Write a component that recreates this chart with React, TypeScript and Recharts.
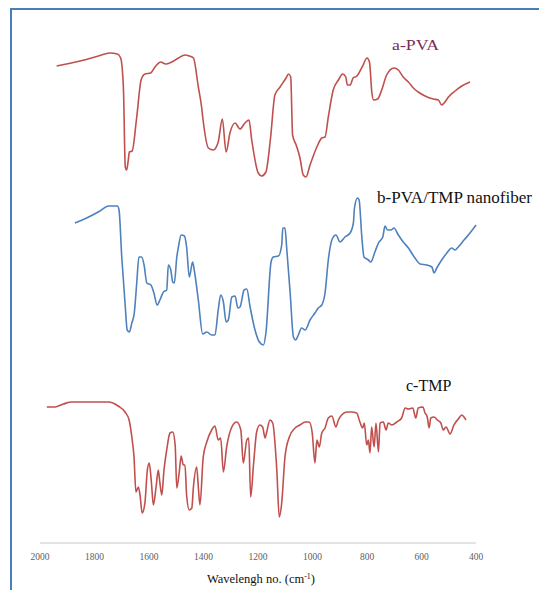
import { Line, LineChart, XAxis, YAxis } from "recharts";

// FTIR spectra, offset vertically (arbitrary transmittance units)
const pvaWavenumber = [
  1939, 1853, 1786, 1743, 1716, 1704, 1694, 1687, 1682, 1676, 1672, 1662, 1645, 1629, 1615, 1594,
  1578, 1557, 1539, 1517, 1492, 1468, 1452, 1437, 1419, 1407, 1402, 1382, 1364, 1346, 1331, 1317,
  1303, 1284, 1266, 1248, 1233, 1223, 1199, 1187, 1171, 1154, 1138, 1119, 1097, 1088, 1080, 1073,
  1060, 1046, 1034, 1024, 1009, 984, 966, 954, 942, 924, 905, 889, 878, 872, 862, 851, 837, 816,
  800, 791, 782, 776, 761, 746, 728, 701, 685, 667, 648, 630, 612, 587, 557, 538, 526, 517, 501,
  477, 452, 422,
];
const pvaSignal = [
  477, 482, 487, 490, 489, 485, 456, 376, 373, 383, 391, 392, 426, 463, 469, 470, 476, 481, 479,
  481, 485, 488, 487, 485, 456, 436, 424, 395, 393, 401, 424, 391, 410, 420, 414, 420, 423, 403,
  370, 367, 371, 405, 448, 456, 465, 469, 466, 408, 398, 385, 368, 366, 378, 396, 405, 406, 426,
  453, 463, 469, 466, 458, 458, 465, 467, 477, 485, 481, 450, 443, 444, 453, 468, 475, 473, 466,
  461, 455, 451, 447, 444, 443, 438, 440, 446, 452, 457, 461,
];

const fiberWavenumber = [
  1872, 1829, 1780, 1749, 1716, 1710, 1700, 1688, 1680, 1672, 1663, 1654, 1645, 1637, 1627, 1618,
  1608, 1593, 1582, 1570, 1560, 1547, 1535, 1529, 1520, 1513, 1507, 1498, 1492, 1482, 1470, 1462,
  1452, 1440, 1434, 1419, 1403, 1388, 1370, 1358, 1346, 1337, 1327, 1317, 1309, 1296, 1284, 1274,
  1266, 1251, 1241, 1229, 1211, 1195, 1180, 1171, 1152, 1144, 1125, 1113, 1109, 1101, 1095, 1082,
  1070, 1062, 1052, 1040, 1027, 1009, 991, 979, 966, 954, 942, 929, 914, 899, 881, 862, 850, 846,
  835, 829, 819, 811, 795, 786, 771, 758, 742, 734, 725, 712, 701, 685, 667, 648, 624, 605, 581,
  562, 554, 544, 526, 507, 489, 477, 465, 444, 422, 400,
];
const fiberSignal = [
  320, 325, 332, 337, 337, 333, 286, 240, 213, 211, 220, 230, 260, 286, 286, 278, 260, 258, 250,
  238, 243, 251, 253, 278, 273, 261, 260, 286, 296, 308, 307, 296, 266, 281, 273, 243, 209, 211,
  208, 208, 233, 248, 241, 221, 223, 246, 247, 235, 236, 253, 254, 236, 213, 201, 198, 210, 281,
  286, 287, 298, 315, 315, 296, 250, 206, 203, 208, 215, 213, 223, 230, 235, 238, 250, 283, 303,
  308, 301, 306, 310, 320, 335, 345, 343, 306, 286, 283, 281, 291, 300, 306, 317, 313, 313, 315,
  308, 301, 295, 285, 279, 278, 276, 270, 275, 283, 290, 295, 293, 296, 303, 310, 318,
];

const tmpWavenumber = [
  1975, 1945, 1914, 1884, 1816, 1749, 1713, 1688, 1673, 1663, 1655, 1648, 1639, 1633, 1625, 1615,
  1606, 1599, 1591, 1584, 1574, 1566, 1560, 1553, 1545, 1535, 1523, 1513, 1504, 1498, 1489, 1482,
  1474, 1468, 1462, 1452, 1443, 1437, 1425, 1419, 1413, 1401, 1388, 1370, 1358, 1346, 1337, 1327,
  1315, 1296, 1278, 1263, 1254, 1241, 1234, 1227, 1216, 1205, 1193, 1183, 1174, 1168, 1156, 1146,
  1131, 1122, 1113, 1101, 1085, 1064, 1046, 1027, 1012, 1001, 991, 984, 975, 966, 954, 942, 929,
  914, 905, 893, 874, 856, 838, 826, 816, 810, 801, 795, 789, 783, 774, 767, 758, 752, 740, 730,
  722, 709, 691, 673, 660, 648, 632, 621, 612, 595, 587, 579, 572, 566, 554, 542, 529, 520, 510,
  495, 481, 465, 452, 444, 437,
];
const tmpSignal = [
  136, 136, 139, 141, 141, 141, 137, 131, 123, 106, 86, 51, 56, 48, 30, 40, 73, 80, 60, 38, 56,
  73, 60, 48, 73, 93, 110, 111, 98, 55, 71, 87, 78, 78, 48, 33, 35, 56, 76, 56, 38, 86, 101, 113,
  117, 103, 105, 71, 96, 116, 121, 113, 80, 103, 105, 46, 80, 111, 118, 116, 105, 111, 123, 120,
  73, 26, 40, 86, 106, 115, 118, 121, 121, 110, 80, 103, 96, 110, 115, 125, 127, 116, 123, 128,
  131, 131, 130, 121, 115, 120, 98, 103, 90, 116, 96, 120, 91, 120, 121, 113, 120, 118, 121, 125,
  135, 134, 135, 125, 135, 136, 130, 126, 115, 125, 126, 123, 120, 113, 116, 109, 118, 124, 128,
  126, 123,
];

const xTicks = [2000, 1800, 1600, 1400, 1200, 1000, 800, 600, 400];

const zip = (wn: number[], t: number[]) => wn.map((w, i) => ({ wn: w, t: t[i] }));

const pvaData = zip(pvaWavenumber, pvaSignal);
const fiberData = zip(fiberWavenumber, fiberSignal);
const tmpData = zip(tmpWavenumber, tmpSignal);

const serif = "'Liberation Serif', 'Times New Roman', serif";

const AxisTitle = (props: any) => {
  const { viewBox } = props;
  const cx = viewBox.x + viewBox.width / 2 + 3;
  return (
    <text x={cx} y={viewBox.y + 40} textAnchor="middle" fontFamily={serif} fontSize={12.5} fill="#111">
      Wavelengh no. (cm
      <tspan dy={-4} fontSize={8}>-1</tspan>
      <tspan dy={4}>)</tspan>
    </text>
  );
};

const App = () => {
  return (
    <div style={{ position: "absolute", left: 0, top: 0, width: 539, height: 590, background: "#fff" }}>
      <div
        style={{
          position: "absolute",
          left: 10,
          top: 8,
          width: 529,
          height: 582,
          borderTop: "2px solid #4a7ebb",
          borderLeft: "2px solid #4a7ebb",
        }}
      />
      <LineChart
        width={539}
        height={590}
        margin={{ top: 23, right: 63, bottom: 17, left: 40 }}
        style={{ position: "absolute", left: 0, top: 0 }}
      >
        <XAxis
          type="number"
          dataKey="wn"
          domain={[400, 2000]}
          reversed
          ticks={xTicks}
          interval={0}
          height={30}
          tickLine={false}
          tickMargin={4}
          axisLine={{ stroke: "#c8c8c8", strokeWidth: 1 }}
          tick={{ fill: "#606060", fontSize: 9.5, fontFamily: serif }}
          label={<AxisTitle />}
          allowDuplicatedCategory={false}
        />
        <YAxis type="number" domain={[0, 520]} hide />
        <Line data={pvaData} dataKey="t" type="monotone" stroke="#c0504d" strokeWidth={1.6} dot={false} isAnimationActive={false} />
        <Line data={fiberData} dataKey="t" type="monotone" stroke="#4f81bd" strokeWidth={1.6} dot={false} isAnimationActive={false} />
        <Line data={tmpData} dataKey="t" type="monotone" stroke="#c0504d" strokeWidth={1.6} dot={false} isAnimationActive={false} />
      </LineChart>
      <svg width={539} height={590} style={{ position: "absolute", left: 0, top: 0, pointerEvents: "none" }}>
        <text x={392} y={50} fontFamily={serif} fontSize={15} fill="#7b2a55" textLength={47} lengthAdjust="spacingAndGlyphs">
          a-PVA
        </text>
        <text x={377} y={203} fontFamily={serif} fontSize={16} fill="#111" textLength={155} lengthAdjust="spacingAndGlyphs">
          b-PVA/TMP nanofiber
        </text>
        <text x={406} y={391} fontFamily={serif} fontSize={16} fill="#111">
          c-TMP
        </text>
      </svg>
    </div>
  );
};

export default App;
